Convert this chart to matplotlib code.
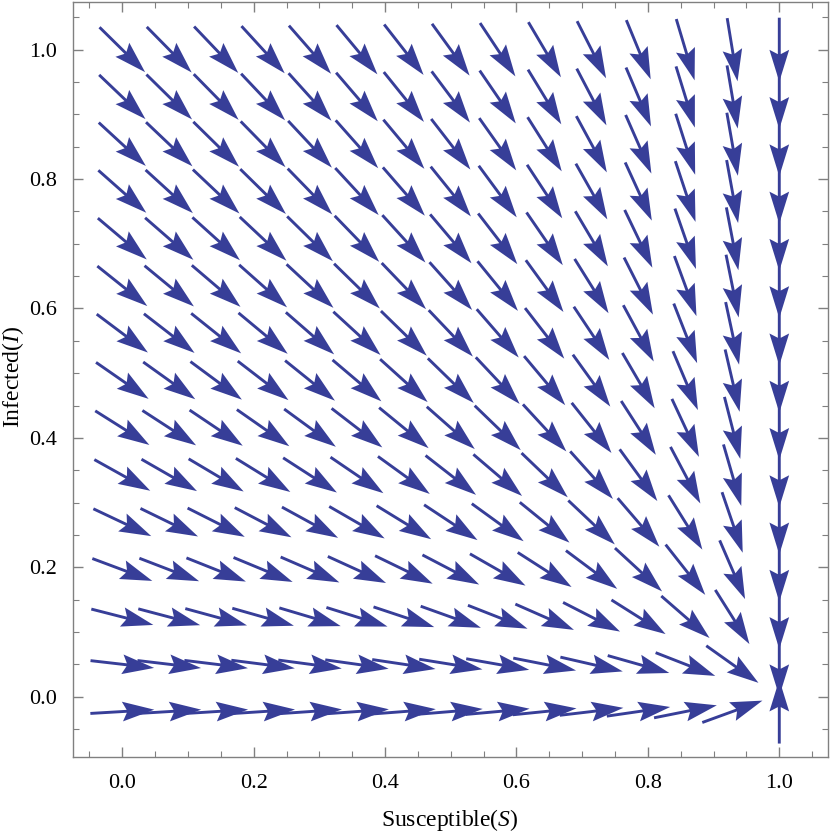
import numpy as np
import matplotlib.pyplot as plt
from matplotlib.ticker import MultipleLocator

# grid of arrow positions
s_points = np.linspace(0.0, 1.0, 15)
i_points = np.linspace(-0.023, 1.0, 15)

# model parameters (fitted to the arrow directions in the picture)
beta = 0.3    # infection rate
gamma = 0.3   # recovery rate (back to S)
mu = 0.2      # birth / death rate

S, I = np.meshgrid(s_points, i_points)
dS = mu * (1 - S) - beta * S * I + gamma * I
dI = beta * S * I - (gamma + mu) * I
# VectorPlot style: all arrows drawn the same length
mag = np.hypot(dS, dI)
U = dS / mag
V = dI / mag

arrow_color = '#373e98'

plt.rcParams['font.family'] = ['Liberation Serif', 'DejaVu Serif']
plt.rcParams['mathtext.fontset'] = 'custom'
plt.rcParams['mathtext.it'] = 'Liberation Serif:italic'
plt.rcParams['mathtext.rm'] = 'Liberation Serif'

fig = plt.figure(figsize=(8.30, 8.34), dpi=100)
ax = fig.add_axes([73.3 / 830, 76.7 / 834, 755 / 830, 755.6 / 834])

ax.quiver(S, I, U, V, color=arrow_color, pivot='middle',
          angles='xy', scale_units='dots', scale=1 / 64.0,
          units='dots', width=2.9, headwidth=6.8, headlength=11.0,
          headaxislength=9.5)

ax.set_xlim(-0.0746, 1.0746)
ax.set_ylim(-0.0937, 1.0742)

ax.xaxis.set_major_locator(MultipleLocator(0.2))
ax.xaxis.set_minor_locator(MultipleLocator(0.05))
ax.yaxis.set_major_locator(MultipleLocator(0.2))
ax.yaxis.set_minor_locator(MultipleLocator(0.05))
ax.xaxis.set_major_formatter(plt.FuncFormatter(lambda v, p: f'{v:.1f}'))
ax.yaxis.set_major_formatter(plt.FuncFormatter(lambda v, p: f'{v:.1f}'))

frame_color = '#808080'
for sp in ax.spines.values():
    sp.set_color(frame_color)
    sp.set_linewidth(1.0)
ax.tick_params(which='both', direction='in', top=True, right=True,
               color=frame_color, labelsize=16, labelcolor='black')
ax.tick_params(which='major', length=7, width=1.0, pad=12)
ax.tick_params(which='minor', length=4, width=0.8)

ax.set_xlabel(r'Susceptible($S$)', fontsize=17, va='center')
ax.set_ylabel(r'Infected($I$)', fontsize=17, va='center')
ax.xaxis.set_label_coords(0.499, -0.083)
ax.yaxis.set_label_coords(-0.080, 0.503)

fig.savefig('out.png', dpi=100)
